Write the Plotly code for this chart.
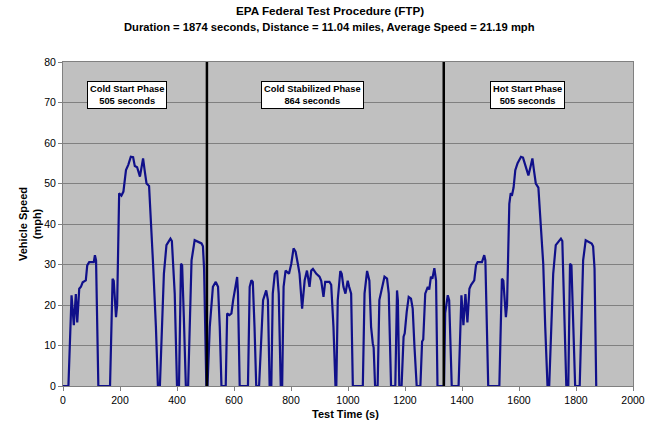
import plotly.graph_objects as go

# (time s, speed mph)
cold_phase = [
    (0, 0), (19, 0), (30, 22.4), (38, 15), (45, 22.7), (50, 15.7), (57, 24), (63, 24.5),
    (69, 25.6), (80, 26.1), (85, 29.8), (92, 30.6), (108, 30.6), (112, 32.3), (116, 31),
    (124, 0), (165, 0), (174, 26.5), (178, 26), (186, 17), (190, 20), (197, 47.6),
    (205, 47), (212, 48), (221, 53.3), (229, 54.6), (238, 56.6), (246, 56.5), (252, 54.3),
    (260, 54), (270, 51.7), (275, 54), (281, 56.2), (287, 53), (293, 50), (302, 49.4),
    (310, 39.3), (316, 30.2), (326, 14.6), (333, 0), (340, 0), (354, 27.7), (363, 34.8),
    (377, 36.4), (382, 35.8), (392, 22.8), (400, 0), (407, 0), (414, 30.2), (418, 29.8),
    (424, 17), (431, 0), (439, 0), (451, 31), (462, 36), (474, 35.5), (486, 35.2),
    (491, 34.5), (495, 29), (503, 0),
]
stabilized_phase = [
    (507, 0), (515, 14.6), (526, 24.5), (536, 25.7), (544, 24.5), (550, 14.6), (556, 0),
    (571, 0), (576, 17.9), (584, 17.5), (591, 17.9), (597, 21.2), (606, 24.5), (611, 26.9),
    (614, 22.8), (620, 0), (649, 0), (655, 24.5), (661, 26.1), (666, 25.7), (672, 14.6),
    (678, 0), (688, 0), (696, 14.6), (702, 21.2), (713, 23.6), (719, 21.2), (725, 0),
    (731, 0), (736, 22.8), (743, 27.7), (751, 28.5), (757, 22.8), (764, 0), (769, 0),
    (774, 24.5), (781, 28.5), (793, 27.7), (801, 30.2), (809, 34), (816, 33.2), (824, 30.2),
    (830, 27.7), (839, 19.1), (848, 26.1), (856, 28.5), (865, 24.5), (871, 28.5),
    (877, 28.9), (889, 27.7), (900, 27), (906, 26), (914, 22), (920, 25.7), (935, 25.7),
    (941, 25), (949, 14.6), (956, 0), (959, 0), (964, 21.2), (973, 28.4), (978, 27.7),
    (984, 24.5), (991, 22.8), (999, 26), (1004, 24.5), (1011, 22.8), (1017, 0), (1052, 0),
    (1058, 22.8), (1067, 28.4), (1075, 26), (1081, 14.6), (1087, 10.5), (1090, 9.5),
    (1095, 0), (1104, 0), (1110, 21.2), (1120, 24.5), (1128, 27), (1137, 26.5),
    (1143, 22.8), (1151, 0), (1166, 0), (1172, 23.6), (1175, 21.2), (1180, 0), (1188, 0),
    (1195, 12.2), (1199, 13), (1206, 18.3), (1213, 22), (1221, 21.6), (1227, 19.1),
    (1233, 10), (1241, 0), (1254, 0), (1260, 11), (1264, 11.5), (1271, 22.8), (1280, 24.5),
    (1285, 23.8), (1291, 27), (1296, 26.5), (1303, 29.1), (1309, 26), (1314, 0),
    (1337, 0), (1341, 18), (1350, 22.4), (1355, 21.2), (1364, 0),
]
hot_phase = [
    (1388, 0), (1398, 22.4), (1405, 15), (1412, 22.7), (1419, 15.7), (1426, 24),
    (1432, 25), (1438, 25.5), (1443, 26.1), (1449, 29.8), (1455, 30.6), (1470, 30.6),
    (1478, 32.3), (1482, 31), (1492, 0), (1531, 0), (1540, 26.5), (1545, 26), (1554, 17),
    (1558, 20), (1566, 45), (1571, 47.6), (1576, 47.3), (1581, 49), (1587, 53.3),
    (1595, 55), (1607, 56.6), (1614, 56.4), (1622, 54.3), (1633, 52), (1640, 54),
    (1647, 56.2), (1653, 53), (1659, 50), (1668, 49), (1677, 39.3), (1685, 30.2),
    (1692, 14.6), (1700, 0), (1706, 0), (1720, 27.7), (1729, 34.8), (1747, 36.4),
    (1752, 35.8), (1758, 22.8), (1766, 0), (1773, 0), (1779, 30.2), (1784, 29.8),
    (1790, 17), (1797, 0), (1813, 0), (1825, 31), (1834, 36), (1845, 35.5), (1855, 35.2),
    (1860, 34.5), (1865, 29), (1871, 0), (1874, 0),
]

phase_boundaries = [505, 1336]
phase_labels = ["Cold Start Phase<br>505 seconds",
                "Cold Stabilized Phase<br>864 seconds",
                "Hot Start Phase<br>505 seconds"]
label_x = [226, 874, 1629]
label_y = 71.8

title_text = "EPA Federal Test Procedure (FTP)"
subtitle_text = "Duration = 1874 seconds, Distance = 11.04 miles, Average Speed = 21.19 mph"

x_ticks = list(range(0, 2001, 200))
y_ticks = list(range(0, 81, 10))

points = cold_phase + stabilized_phase + hot_phase
times = [p[0] for p in points]
speeds = [p[1] for p in points]

FONT = "Liberation Sans, Arial, sans-serif"
W, H = 652, 428
ML, MR, MT, MB = 63, 19, 62, 42

fig = go.Figure()
fig.add_trace(go.Scatter(x=times, y=speeds, mode="lines",
                         line=dict(color="#10108a", width=2.2), hoverinfo="x+y"))

for xb in phase_boundaries:
    fig.add_shape(type="line", x0=xb, x1=xb, y0=0, y1=80, xref="x", yref="y",
                  line=dict(color="black", width=2.5), layer="above")

for txt, lx in zip(phase_labels, label_x):
    fig.add_annotation(x=lx, y=label_y, xref="x", yref="y", text="<b>" + txt + "</b>",
                       showarrow=False, bgcolor="white", bordercolor="black",
                       borderwidth=1, borderpad=2,
                       font=dict(family=FONT, size=9.3, color="black"))

def py(y_pix):
    return (H - MB - y_pix) / (H - MT - MB)

def px(x_pix):
    return (x_pix - ML) / (W - ML - MR)

fig.add_annotation(x=px(330), y=py(11), xref="paper", yref="paper", showarrow=False,
                   text="<b>" + title_text + "</b>", xanchor="center", yanchor="middle",
                   font=dict(family=FONT, size=11.7, color="black"))
fig.add_annotation(x=px(329), y=py(27), xref="paper", yref="paper", showarrow=False,
                   text="<b>" + subtitle_text + "</b>", xanchor="center", yanchor="middle",
                   font=dict(family=FONT, size=11.2, color="black"))
fig.add_annotation(x=px(345), y=py(414), xref="paper", yref="paper", showarrow=False,
                   text="<b>Test Time (s)</b>", xanchor="center", yanchor="middle",
                   font=dict(family=FONT, size=11, color="black"))
fig.add_annotation(x=px(30), y=py(224), xref="paper", yref="paper", showarrow=False,
                   text="<b>Vehicle Speed<br>(mph)</b>", xanchor="center", yanchor="middle",
                   textangle=-90,
                   font=dict(family=FONT, size=11, color="black"))

fig.update_layout(
    width=W, height=H,
    margin=dict(l=ML, r=MR, t=MT, b=MB, autoexpand=False),
    paper_bgcolor="white", plot_bgcolor="#c0c0c0",
    showlegend=False,
    font=dict(family=FONT, size=10.5, color="black"),
    xaxis=dict(range=[0, 2000], tickvals=x_ticks, ticks="outside", ticklen=4,
               tickcolor="#808080", showgrid=False, zeroline=False,
               showline=True, linecolor="#808080", mirror=True, automargin=False,
               tickfont=dict(size=10.5)),
    yaxis=dict(range=[0, 80], tickvals=y_ticks, ticks="outside", ticklen=4,
               tickcolor="#808080", showgrid=True, gridcolor="#808080", gridwidth=1,
               zeroline=False, showline=True, linecolor="#808080", mirror=True,
               automargin=False, tickfont=dict(size=10.5)),
)

fig.write_html("out.html", config={"displayModeBar": False},
               post_script="document.body.style.margin='0';document.body.style.padding='0';")
